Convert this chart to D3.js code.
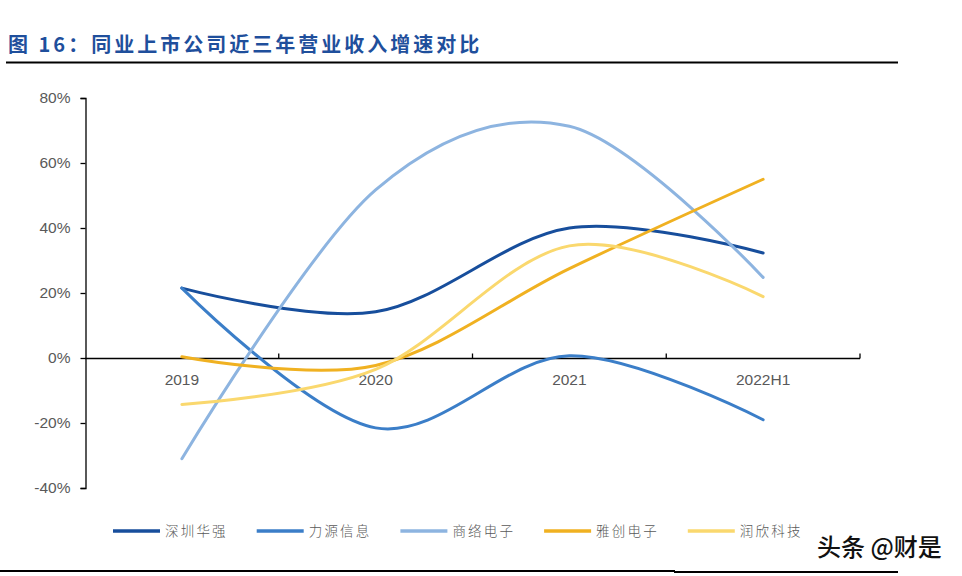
<!DOCTYPE html>
<html>
<head>
<meta charset="utf-8">
<script src="https://cdn.jsdelivr.net/npm/d3@7"></script>
<style>
  body { margin: 0; background: #fff; }
  svg { display: block; }
</style>
</head>
<body>
<svg id="chart" width="962" height="576"></svg>
<script>
// categories and series (growth rate, %)
var categories = ['2019', '2020', '2021', '2022H1'];
var seriesNames = ['深圳华强', '力源信息', '商络电子', '雅创电子', '润欣科技'];
var shenzhenHuaqiang = [21.5, 14.2, 40.0, 32.3];
var liyuanXinxi = [21.5, -21.5, 0.7, -19.0];
var shangluoDianzi = [-31.0, 51.7, 71.3, 24.8];
var yachuangDianzi = [0.4, -2.3, 27.5, 55.0];
var runxinKeji = [-14.3, -3.5, 34.5, 18.9];
var seriesValues = [shenzhenHuaqiang, liyuanXinxi, shangluoDianzi, yachuangDianzi, runxinKeji];
var seriesColors = ['#174E9C', '#3B7EC8', '#8DB4E0', '#F0B121', '#FAD86E'];
var yTicks = [-40, -20, 0, 20, 40, 60, 80];

var svg = d3.select('#chart');

// title
svg.append('text')
  .attr('x', 8)
  .attr('y', 52)
  .attr('fill', '#1F4F9C')
  .attr('font-family', 'Noto Sans CJK SC, sans-serif')
  .attr('font-weight', 'bold')
  .attr('font-size', 20)
  .attr('letter-spacing', 3)
  .text('图 16：同业上市公司近三年营业收入增速对比');
svg.append('line')
  .attr('x1', 6).attr('x2', 898)
  .attr('y1', 62.5).attr('y2', 62.5)
  .attr('stroke', '#000').attr('stroke-width', 2);

// bottom rules
svg.append('line')
  .attr('x1', 0).attr('x2', 675)
  .attr('y1', 571).attr('y2', 571)
  .attr('stroke', '#000').attr('stroke-width', 2);
svg.append('line')
  .attr('x1', 674).attr('x2', 898)
  .attr('y1', 572).attr('y2', 572)
  .attr('stroke', '#000').attr('stroke-width', 2);

// scales
var x = d3.scaleBand().domain(categories).range([85, 860]);
var y = d3.scaleLinear().domain([-40, 80]).range([488, 98]);

// y axis
var yAxis = d3.axisLeft(y)
  .tickValues(yTicks)
  .tickSize(5)
  .tickFormat(function (d) { return d + '%'; });
var gy = svg.append('g')
  .attr('transform', 'translate(85.5,0)')
  .call(yAxis);
gy.select('.domain').attr('stroke', '#000').attr('stroke-width', 1.3);
gy.selectAll('.tick line').attr('stroke', '#000').attr('stroke-width', 1.3);
gy.selectAll('.tick text')
  .attr('x', -15)
  .attr('fill', '#595959')
  .attr('font-family', 'Liberation Sans, Arial, sans-serif')
  .attr('font-size', 15.5);

// x axis at zero, ticks pointing up at band edges
var gx = svg.append('g').attr('transform', 'translate(0,' + (Math.round(y(0)) + 0.5) + ')');
gx.append('line')
  .attr('x1', x.range()[0]).attr('x2', x.range()[1])
  .attr('stroke', '#000').attr('stroke-width', 1.3);
gx.selectAll('line.tk')
  .data(categories)
  .enter().append('line')
  .attr('class', 'tk')
  .attr('x1', function (d) { return x(d) + x.bandwidth(); })
  .attr('x2', function (d) { return x(d) + x.bandwidth(); })
  .attr('y1', 0).attr('y2', -5)
  .attr('stroke', '#000').attr('stroke-width', 1.3);
gx.selectAll('text')
  .data(categories)
  .enter().append('text')
  .attr('x', function (d) { return x(d) + x.bandwidth() / 2; })
  .attr('y', 26)
  .attr('text-anchor', 'middle')
  .attr('fill', '#595959')
  .attr('font-family', 'Liberation Sans, Arial, sans-serif')
  .attr('font-size', 15.5)
  .text(function (d) { return d; });

// smoothed lines
var line = d3.line()
  .x(function (d, i) { return x(categories[i]) + x.bandwidth() / 2; })
  .y(function (d) { return y(d); })
  .curve(d3.curveCardinal.tension(0));

svg.append('g').selectAll('path')
  .data(seriesValues)
  .enter().append('path')
  .attr('d', line)
  .attr('fill', 'none')
  .attr('stroke', function (d, i) { return seriesColors[i]; })
  .attr('stroke-width', 3)
  .attr('stroke-linecap', 'round');

// legend
var legend = svg.append('g').selectAll('g')
  .data(seriesNames)
  .enter().append('g')
  .attr('transform', function (d, i) { return 'translate(' + (113 + i * 143.7) + ',531)'; });
legend.append('line')
  .attr('x1', 0).attr('x2', 47)
  .attr('stroke', function (d, i) { return seriesColors[i]; })
  .attr('stroke-width', 3.5);
legend.append('text')
  .attr('x', 52)
  .attr('y', 5)
  .attr('fill', '#595959')
  .attr('font-family', 'Noto Sans CJK SC, sans-serif')
  .attr('font-weight', 300)
  .attr('font-size', 13.5)
  .attr('letter-spacing', 2.2)
  .text(function (d) { return d; });

// watermark
svg.append('text')
  .attr('x', 817)
  .attr('y', 556)
  .attr('fill', '#111')
  .attr('font-family', 'Noto Sans CJK SC, sans-serif')
  .attr('font-weight', 500)
  .attr('font-size', 24)
  .text('头条 @财是');
</script>
</body>
</html>
